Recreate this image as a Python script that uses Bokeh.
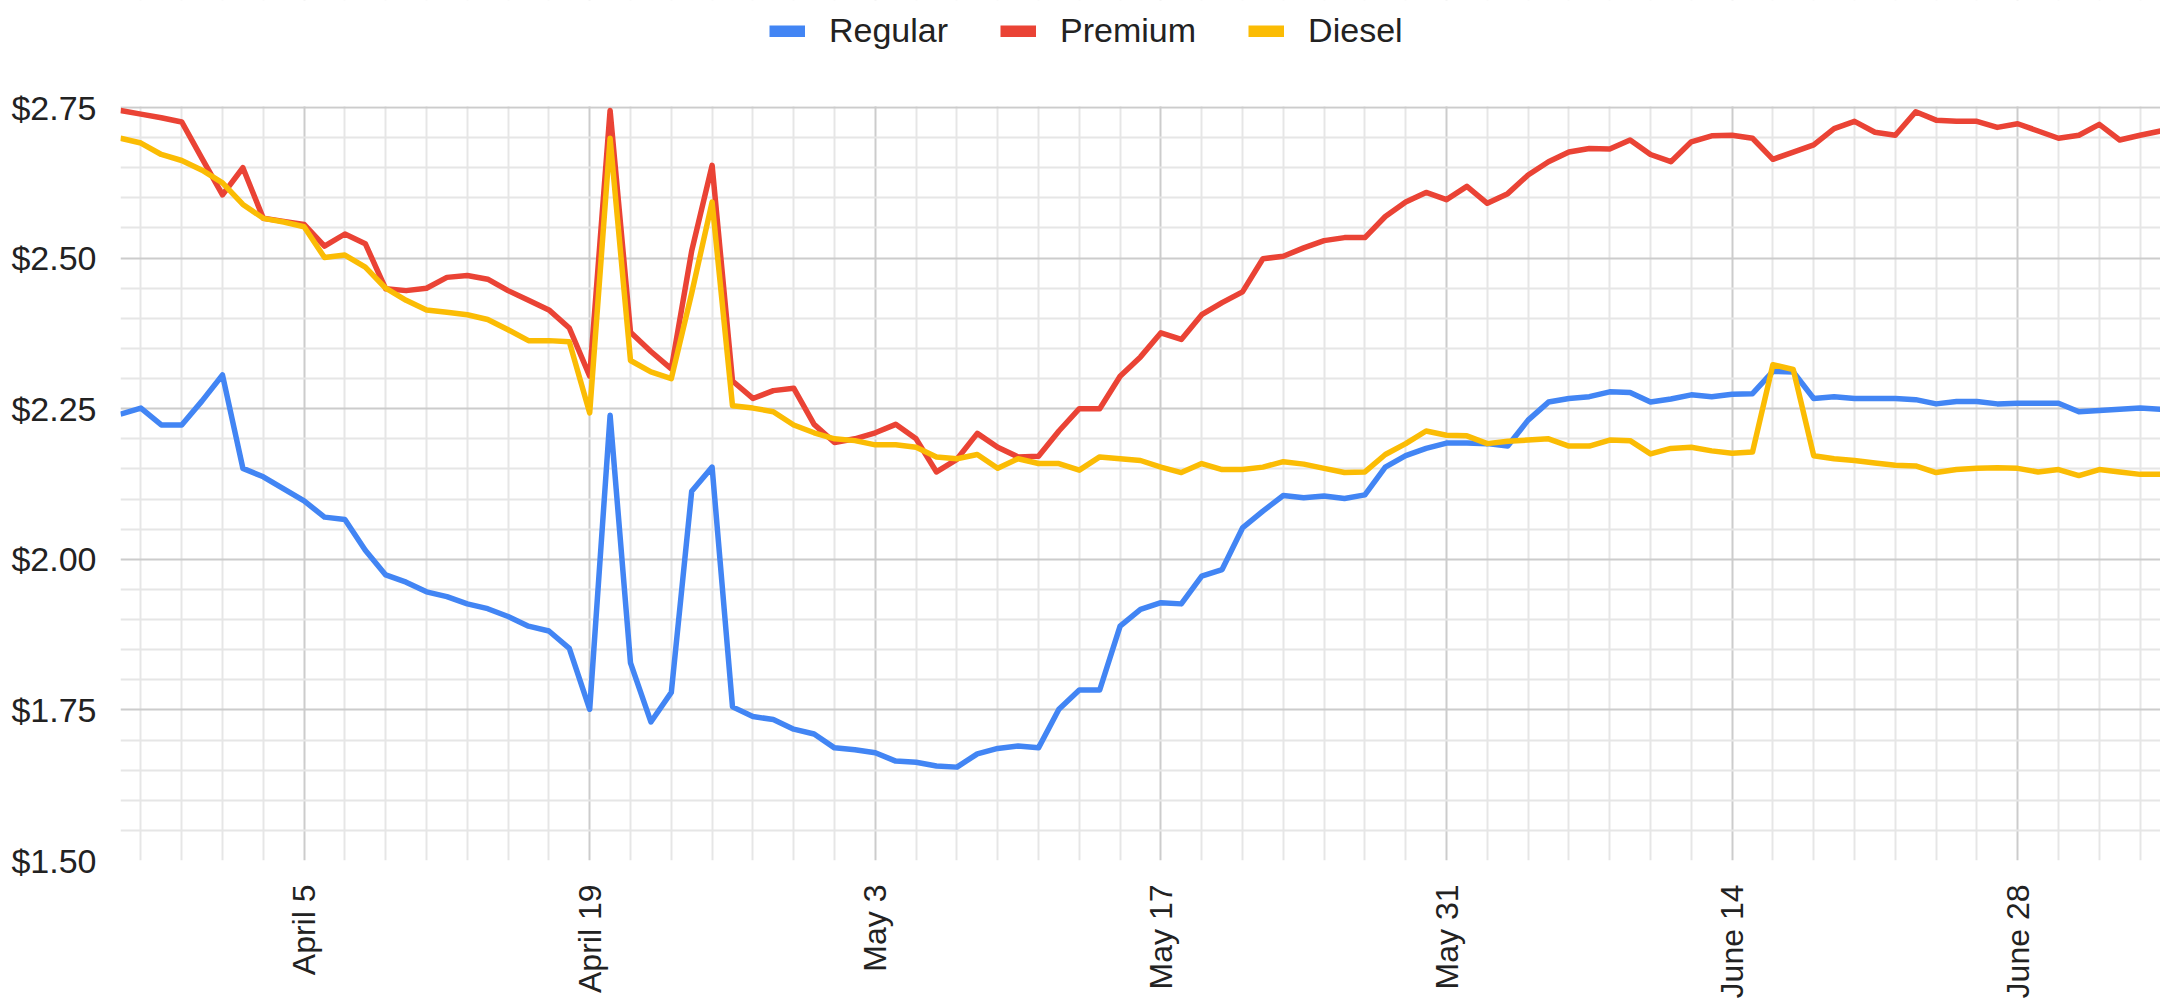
import math
import pandas as pd
from bokeh.plotting import figure
from bokeh.models import (FixedTicker, NumeralTickFormatter, DatetimeTickFormatter,
                          Legend, LegendItem, Range1d, ColumnDataSource, BoxAnnotation)
from bokeh.embed import file_html
from bokeh.resources import INLINE

# ---- data -------------------------------------------------------------
dates = pd.date_range("2020-03-27", "2020-07-05", freq="D")

regular = [
    2.241, 2.251, 2.223, 2.223, 2.263, 2.306, 2.151, 2.137, 2.117, 2.097, 2.070, 2.066, 2.015, 1.974, 1.962, 1.946, 1.938,
    1.926, 1.918, 1.905, 1.889, 1.881, 1.852, 1.751, 2.239, 1.828, 1.730, 1.779, 2.113, 2.153, 1.755, 1.739, 1.734, 1.718,
    1.710, 1.687, 1.684, 1.679, 1.665, 1.663, 1.657, 1.655, 1.677, 1.686, 1.690, 1.687, 1.751, 1.783, 1.783, 1.889, 1.917,
    1.928, 1.926, 1.972, 1.983, 2.052, 2.080, 2.106, 2.102, 2.105, 2.101, 2.107, 2.153, 2.172, 2.184, 2.193, 2.193,
    2.192, 2.188, 2.231, 2.261, 2.267, 2.270, 2.278, 2.277, 2.261, 2.266, 2.273, 2.270, 2.274, 2.275, 2.312, 2.311, 2.267,
    2.270, 2.267, 2.267, 2.267, 2.265, 2.258, 2.262, 2.262, 2.258, 2.259, 2.259, 2.259, 2.245, 2.247, 2.249, 2.251, 2.249,
]
premium = [
    2.745, 2.739, 2.733, 2.726, 2.665, 2.605, 2.650, 2.566, 2.561, 2.556, 2.520, 2.540, 2.524, 2.449, 2.446, 2.450, 2.468,
    2.471, 2.465, 2.446, 2.430, 2.414, 2.384, 2.304, 2.745, 2.377, 2.345, 2.316, 2.512, 2.654, 2.296, 2.267, 2.280, 2.284,
    2.224, 2.194, 2.200, 2.210, 2.224, 2.200, 2.145, 2.166, 2.209, 2.186, 2.170, 2.171, 2.213, 2.250, 2.250, 2.304, 2.336,
    2.376, 2.365, 2.406, 2.426, 2.444, 2.499, 2.503, 2.517, 2.529, 2.534, 2.534, 2.569, 2.593, 2.609, 2.597, 2.619,
    2.591, 2.607, 2.638, 2.660, 2.676, 2.682, 2.681, 2.696, 2.672, 2.660, 2.693, 2.703, 2.704, 2.699, 2.664, 2.676, 2.688,
    2.715, 2.727, 2.709, 2.704, 2.743, 2.729, 2.727, 2.727, 2.717, 2.723, 2.711, 2.699, 2.704, 2.722, 2.696, 2.704, 2.711,
]
diesel = [
    2.699, 2.691, 2.672, 2.662, 2.646, 2.625, 2.589, 2.566, 2.560, 2.552, 2.501, 2.505, 2.485, 2.450, 2.430, 2.414, 2.410,
    2.406, 2.398, 2.381, 2.363, 2.363, 2.361, 2.243, 2.699, 2.330, 2.311, 2.300, 2.442, 2.593, 2.255, 2.251, 2.245, 2.223,
    2.210, 2.200, 2.197, 2.190, 2.190, 2.186, 2.170, 2.167, 2.174, 2.151, 2.167, 2.159, 2.159, 2.148, 2.170, 2.167, 2.164,
    2.153, 2.144, 2.159, 2.149, 2.149, 2.153, 2.162, 2.158, 2.151, 2.144, 2.145, 2.174, 2.192, 2.213, 2.206, 2.205,
    2.192, 2.196, 2.198, 2.200, 2.188, 2.188, 2.198, 2.197, 2.175, 2.184, 2.186, 2.180, 2.176, 2.178, 2.323, 2.315, 2.172,
    2.167, 2.164, 2.160, 2.156, 2.155, 2.144, 2.149, 2.151, 2.152, 2.151, 2.145, 2.149, 2.139, 2.149, 2.145, 2.141, 2.141,
]

series_names = ["Regular", "Premium", "Diesel"]
series_colors = ["#4285F4", "#EA4335", "#FBBC04"]

x_tick_dates = ["2020-04-05", "2020-04-19", "2020-05-03", "2020-05-17",
                "2020-05-31", "2020-06-14", "2020-06-28"]
x_minor_dates = [d for d in pd.date_range("2020-03-28", "2020-07-04", freq="2D").strftime("%Y-%m-%d")
                 if d not in x_tick_dates]
y_ticks = [1.50, 1.75, 2.00, 2.25, 2.50, 2.75]
y_minor_ticks = [round(1.50 + 0.05 * i, 2) for i in range(26) if i % 5 != 0]


def to_ms(d):
    return (pd.Timestamp(d) - pd.Timestamp("1970-01-01")) // pd.Timedelta(milliseconds=1)


# ---- layout -----------------------------------------------------------
FONT = "Liberation Sans"
W, H = 2160, 1006
BORDER_L, BORDER_B = 120, 146
GRID_TOP_PX = 107                      # pixel row of the top ($2.75) grid line
frame_h = H - BORDER_B
y_lo, y_hi = y_ticks[0], y_ticks[-1]
# the frame reaches the top of the canvas so the legend can sit inside it
y_top = y_lo + (y_hi - y_lo) * frame_h / (frame_h - GRID_TOP_PX)

p = figure(width=W, height=H, x_axis_type="datetime",
           x_range=Range1d(dates[0], dates[-1]), y_range=Range1d(y_lo, y_top),
           output_backend="svg", toolbar_location=None,
           min_border_left=BORDER_L, min_border_right=0,
           min_border_top=0, min_border_bottom=BORDER_B)
p.outline_line_color = None
p.background_fill_color = "white"
p.border_fill_color = "white"

p.xaxis.ticker = FixedTicker(ticks=[to_ms(d) for d in x_tick_dates],
                             minor_ticks=[to_ms(d) for d in x_minor_dates])
p.yaxis.ticker = FixedTicker(ticks=y_ticks, minor_ticks=y_minor_ticks)
p.xaxis.formatter = DatetimeTickFormatter(days="%B %-d", months="%B %-d", hours="%B %-d")
p.yaxis.formatter = NumeralTickFormatter(format="$0.00")

for ax in (p.xaxis, p.yaxis):
    ax.axis_line_color = None
    ax.major_tick_line_color = None
    ax.minor_tick_line_color = None
    ax.major_tick_in = 0
    ax.major_tick_out = 0
    ax.major_label_text_font = FONT
    ax.major_label_text_color = "#222222"
p.yaxis.major_label_text_font_size = "34px"
p.xaxis.major_label_text_font_size = "32px"
p.xaxis.major_label_standoff = 20
p.yaxis.major_label_standoff = 20
p.xaxis.major_label_orientation = math.pi / 2

for g in (p.xgrid, p.ygrid):
    g.grid_line_color = "#cccccc"
    g.grid_line_width = 2
    g.minor_grid_line_color = "#e6e6e6"
    g.minor_grid_line_width = 2

# blank band above the $2.75 line (hides the vertical grid lines there)
p.add_layout(BoxAnnotation(bottom=y_hi + 0.002, fill_color="white", fill_alpha=1.0,
                           line_color=None, level="underlay"))

src = ColumnDataSource(dict(date=dates, Regular=regular, Premium=premium, Diesel=diesel))

items = []
for name, color in zip(series_names, series_colors):
    p.line("date", name, source=src, line_color=color, line_width=5.5, line_join="round")
    # hidden twin of the series, used only for the thick legend swatch
    sw = p.line("date", name, source=src, line_color=color, line_width=12, visible=False)
    items.append(LegendItem(label=name, renderers=[sw]))

legend = Legend(items=items, orientation="horizontal", location=(649, 810),
                glyph_width=36, glyph_height=12, label_standoff=24, spacing=52,
                padding=0, margin=0, border_line_color=None, background_fill_alpha=0,
                label_text_font=FONT, label_text_font_size="34px",
                label_text_color="#222222")
p.add_layout(legend)

open("out.html", "w").write(file_html(p, INLINE))
